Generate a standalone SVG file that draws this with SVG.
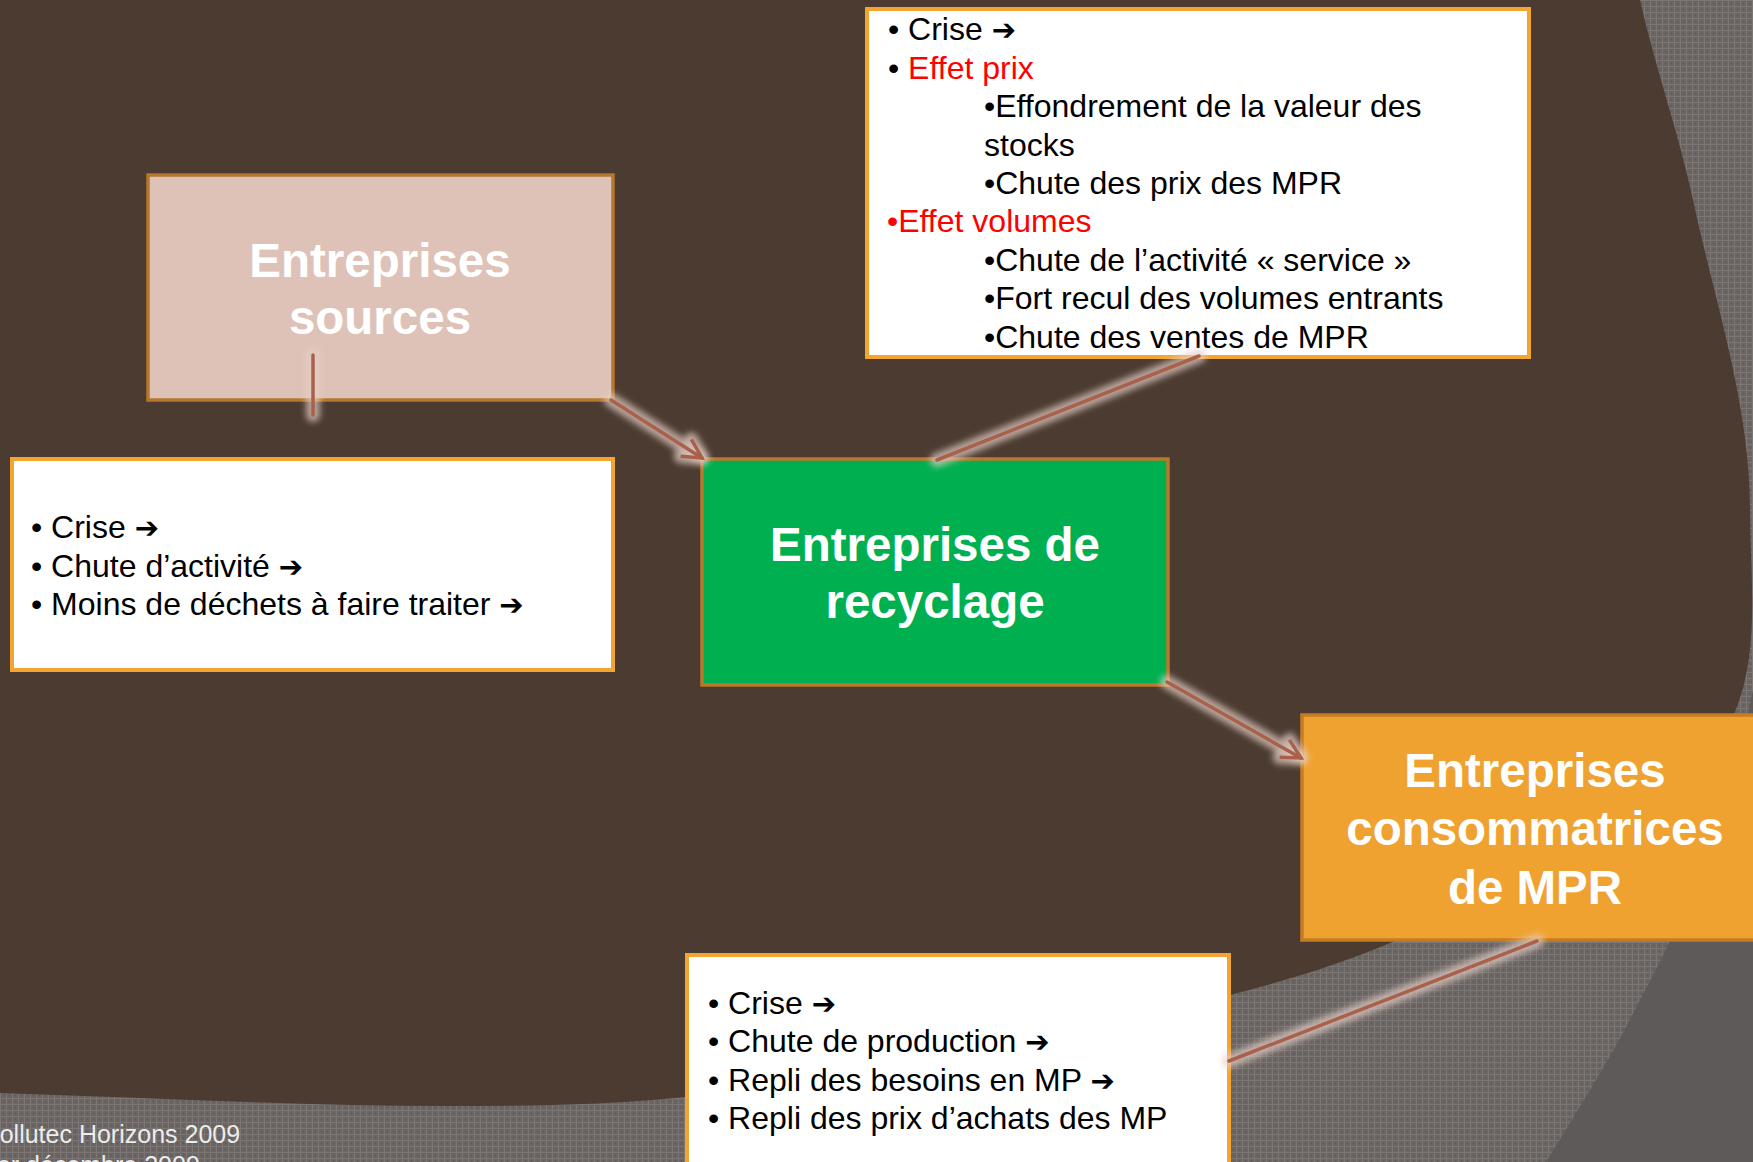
<svg xmlns="http://www.w3.org/2000/svg" width="1753" height="1162" viewBox="0 0 1753 1162">
<defs>
<style>
.h{font-family:"Liberation Sans",Arial,sans-serif;font-weight:bold;font-size:47.5px;fill:#ffffff;text-anchor:middle}
.b{font-family:"Liberation Sans","DejaVu Sans",sans-serif;font-size:32px;fill:#000000}
.a{font-family:"DejaVu Sans",sans-serif;font-weight:bold;font-size:29px}
.red{fill:#ff0000}
.foot{font-family:"Liberation Sans",Arial,sans-serif;font-size:25px;fill:#ececec}
.note{fill:#ffffff;stroke:#f2a531;stroke-width:4}
.line{fill:none;stroke:#a9614b;stroke-width:3.5;stroke-linecap:round}
.glow{fill:none;stroke:#e6cfc6;stroke-opacity:0.7;stroke-width:14;stroke-linecap:round}
</style>
<pattern id="tex" width="6" height="6" patternUnits="userSpaceOnUse">
<rect width="6" height="6" fill="#6a6563"/>
<path d="M0 0.5H6M0.5 0V6" stroke="#7b7674" stroke-width="1"/>
<rect x="3" y="3" width="1" height="1" fill="#5c5755"/>
</pattern>
<filter id="blur" x="-20%" y="-20%" width="140%" height="140%">
<feGaussianBlur stdDeviation="3"/>
</filter>
<marker id="arr" markerUnits="userSpaceOnUse" markerWidth="30" markerHeight="30" viewBox="-25 -15 30 30" refX="0" refY="0" orient="auto">
<path d="M-19,-10 L0,0 L-19,10" fill="none" stroke="#a9614b" stroke-width="3.5"/>
</marker>
<marker id="arrg" markerUnits="userSpaceOnUse" markerWidth="50" markerHeight="50" viewBox="-35 -25 50 50" refX="0" refY="0" orient="auto">
<path d="M-19,-10 L0,0 L-19,10" fill="none" stroke="#e6cfc6" stroke-opacity="0.7" stroke-width="14" stroke-linecap="round" stroke-linejoin="round"/>
</marker>
</defs>

<g id="background">
<rect width="1753" height="1162" fill="url(#tex)"/>
<path d="M1753,690 C1735,780 1690,900 1669,943 C1655,973 1638,1003 1623,1033 C1598,1078 1572,1120 1546,1162 L1753,1162 Z" fill="#5d5a59"/>
<path d="M0,0 L1640,0 C1655,67 1678.5,132 1693,200 C1715,303 1750,405 1750,510 C1750,578 1760.6,649 1735,712 C1714,763 1665.6,799.4 1620,830 C1549,877 1468,910 1390,943 C1338.5,965 1284,981 1230,995 C1141,1018 1050,1035 960,1052 C869,1069 778,1087 686,1097 C607.5,1105 529,1106 450,1106 C300,1106 150,1097.5 0,1093 Z" fill="#4b3b30"/>
<text class="foot" x="-17" y="1143">Pollutec Horizons 2009</text>
<text class="foot" x="-17" y="1174">1er décembre 2009</text>
</g>

<g id="node-sources">
<rect x="148" y="175" width="465" height="225" fill="#dec2b7" stroke="#b4772c" stroke-width="3.5"/>
<text class="h" x="380" y="277">Entreprises</text>
<text class="h" x="380" y="334">sources</text>
</g>

<g id="note-sources">
<rect class="note" x="12" y="459" width="601" height="211"/>
<text class="b" x="31" y="538">• Crise <tspan class="a">➔</tspan></text>
<text class="b" x="31" y="577">• Chute d’activité <tspan class="a">➔</tspan></text>
<text class="b" x="31" y="615">• Moins de déchets à faire traiter <tspan class="a">➔</tspan></text>
</g>

<g id="node-recyclage">
<rect x="702" y="459" width="466" height="226" fill="#00af50" stroke="#b9782d" stroke-width="3.5"/>
<text class="h" x="935" y="561">Entreprises de</text>
<text class="h" x="935" y="618">recyclage</text>
</g>

<g id="note-recyclage">
<rect class="note" x="867" y="9" width="662" height="348"/>
<text class="b" x="888" y="40">• Crise <tspan class="a">➔</tspan></text>
<text class="b" x="888" y="79">• <tspan class="red">Effet prix</tspan></text>
<text class="b" x="984" y="117">•Effondrement de la valeur des</text>
<text class="b" x="984" y="156">stocks</text>
<text class="b" x="984" y="194">•Chute des prix des MPR</text>
<text class="b red" x="887" y="232">•Effet volumes</text>
<text class="b" x="984" y="271">•Chute de l’activité « service »</text>
<text class="b" x="984" y="309">•Fort recul des volumes entrants</text>
<text class="b" x="984" y="348">•Chute des ventes de MPR</text>
</g>

<g id="node-consommatrices">
<rect x="1302" y="715" width="460" height="225" fill="#efa230" stroke="#c57c22" stroke-width="3.5"/>
<text class="h" x="1535" y="787">Entreprises</text>
<text class="h" x="1535" y="845">consommatrices</text>
<text class="h" x="1535" y="904">de MPR</text>
</g>

<g id="note-consommatrices">
<rect class="note" x="687" y="955" width="542" height="230"/>
<text class="b" x="708" y="1014">• Crise <tspan class="a">➔</tspan></text>
<text class="b" x="708" y="1052">• Chute de production <tspan class="a">➔</tspan></text>
<text class="b" x="708" y="1091">• Repli des besoins en MP <tspan class="a">➔</tspan></text>
<text class="b" x="708" y="1129">• Repli des prix d’achats des MP</text>
</g>

<g id="connectors">
<g filter="url(#blur)">
<path class="glow" d="M313,355 L313,415"/>
<path class="glow" d="M611,400 L702,458" marker-end="url(#arrg)"/>
<path class="glow" d="M1199,356 L937,460"/>
<path class="glow" d="M1167,682 L1301,758" marker-end="url(#arrg)"/>
<path class="glow" d="M1537,941 L1229,1061"/>
</g>
<path class="line" d="M313,355 L313,415"/>
<path class="line" d="M611,400 L702,458" marker-end="url(#arr)"/>
<path class="line" d="M1199,356 L937,460"/>
<path class="line" d="M1167,682 L1301,758" marker-end="url(#arr)"/>
<path class="line" d="M1537,941 L1229,1061"/>
</g>
</svg>
